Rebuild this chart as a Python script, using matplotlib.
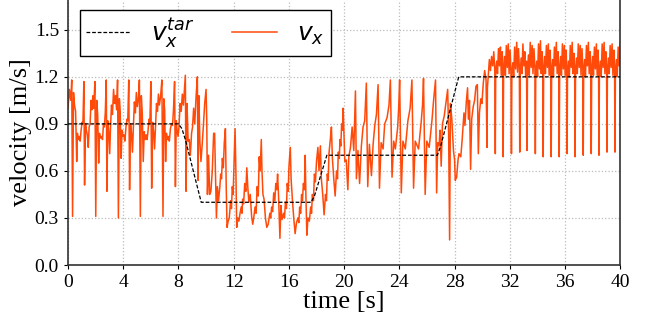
import matplotlib
matplotlib.use('Agg')
import matplotlib.pyplot as plt
import numpy as np

# target velocity (piecewise)
tar_t = [0.0, 8.0, 8.25, 8.5, 9.65, 17.6, 17.85, 18.75, 26.75, 27.0, 28.3, 40.0]
tar_v = [0.9, 0.9, 0.87, 0.8, 0.4, 0.4, 0.44, 0.7, 0.7, 0.76, 1.2, 1.2]

# measured v_x, 0 - 10 s
t_a = [0.00, 0.10, 0.20, 0.27, 0.33, 0.40, 0.47, 0.55, 0.63, 0.68, 0.75, 0.82, 0.88, 0.95, 1.02, 1.08,
       1.15, 1.20, 1.27, 1.33, 1.40, 1.47, 1.53, 1.60, 1.67, 1.73, 1.80, 1.86, 1.95, 2.01, 2.08, 2.15,
       2.22, 2.28, 2.35, 2.42, 2.50, 2.57, 2.63, 2.70, 2.77, 2.82, 2.88, 2.95, 3.02, 3.08, 3.15, 3.22,
       3.30, 3.37, 3.44, 3.52, 3.59, 3.65, 3.72, 3.78, 3.85, 3.91, 3.98, 4.05, 4.12, 4.20, 4.27, 4.33,
       4.40, 4.46, 4.53, 4.60, 4.67, 4.74, 4.81, 4.88, 4.95, 5.02, 5.10, 5.17, 5.24, 5.31, 5.38, 5.45,
       5.52, 5.59, 5.66, 5.73, 5.80, 5.87, 5.93, 6.00, 6.06, 6.13, 6.20, 6.27, 6.34, 6.41, 6.48, 6.55,
       6.62, 6.70, 6.80, 6.88, 6.94, 7.00, 7.07, 7.13, 7.20, 7.27, 7.34, 7.42, 7.50, 7.57, 7.64, 7.72,
       7.78, 7.84, 7.90, 7.97, 8.04, 8.12, 8.20, 8.28, 8.36, 8.43, 8.50, 8.55, 8.62, 8.70, 8.78, 8.86,
       8.95, 9.02, 9.10, 9.18, 9.28, 9.37, 9.42, 9.48, 9.55, 9.63, 9.72, 9.80, 9.90]
v_a = [1.00, 1.12, 1.05, 1.18, 0.31, 1.10, 1.02, 0.98, 0.66, 0.84, 0.80, 0.82, 0.79, 0.86, 0.91, 0.90,
       1.17, 0.51, 0.90, 0.86, 0.83, 0.75, 0.88, 0.90, 1.05, 0.99, 1.08, 1.00, 1.17, 0.31, 1.05, 0.96,
       0.65, 0.84, 0.81, 0.82, 0.80, 0.90, 0.88, 0.97, 1.18, 0.47, 0.92, 0.85, 0.71, 0.88, 1.02, 0.96,
       1.12, 1.03, 1.08, 0.99, 1.18, 0.30, 1.06, 0.98, 0.68, 0.86, 0.82, 0.83, 0.79, 0.88, 0.93, 0.92,
       1.18, 0.48, 0.90, 0.84, 0.72, 0.89, 1.04, 0.97, 1.10, 1.01, 1.06, 1.18, 0.31, 1.08, 0.97, 0.66,
       0.85, 0.80, 0.83, 0.80, 0.86, 0.93, 0.90, 1.17, 0.49, 0.91, 0.85, 0.74, 0.89, 1.03, 0.98, 1.09,
       1.02, 1.07, 1.18, 0.31, 1.06, 0.99, 0.66, 0.84, 0.80, 0.82, 0.79, 0.87, 0.90, 0.89, 0.99, 1.17,
       0.50, 0.92, 0.86, 0.82, 0.88, 1.03, 0.98, 1.09, 1.02, 1.12, 1.21, 0.47, 1.03, 0.79, 0.80, 0.70,
       0.84, 0.88, 1.00, 0.90, 1.08, 1.20, 0.54, 1.08, 0.79, 0.66, 0.77, 0.88, 1.03]

# 10 - 20 s
t_b = [10.00, 10.05, 10.10, 10.18, 10.26, 10.35, 10.45, 10.55, 10.62, 10.68, 10.75, 10.82, 10.90,
       11.00, 11.06, 11.12, 11.18, 11.25, 11.32, 11.40, 11.46, 11.52, 11.60, 11.68, 11.78, 11.84,
       11.90, 11.96, 12.02, 12.10, 12.16, 12.22, 12.30, 12.38, 12.46, 12.55, 12.60, 12.65, 12.72,
       12.80, 12.88, 12.95, 13.02, 13.10, 13.20, 13.30, 13.38, 13.45, 13.55, 13.62, 13.70, 13.78,
       13.85, 13.92, 14.00, 14.05, 14.12, 14.20, 14.30, 14.40, 14.50, 14.62, 14.68, 14.75, 14.82,
       14.90, 14.98, 15.05, 15.12, 15.18, 15.25, 15.35, 15.42, 15.50, 15.62, 15.68, 15.75, 15.82,
       15.88, 15.95, 16.00, 16.10, 16.16, 16.25, 16.35, 16.45, 16.55, 16.65, 16.72, 16.78, 16.85,
       16.92, 16.98, 17.05, 17.12, 17.18, 17.23, 17.30, 17.38, 17.48, 17.58, 17.64, 17.70, 17.78,
       17.85, 17.92, 18.00, 18.10, 18.18, 18.28, 18.35, 18.45, 18.55, 18.65, 18.72, 18.78, 18.85,
       18.90, 19.00, 19.08, 19.15, 19.25, 19.35, 19.45, 19.52, 19.58, 19.65, 19.70, 19.76, 19.82,
       19.88, 19.93]
v_b = [1.12, 0.92, 0.45, 0.70, 0.45, 0.47, 0.60, 0.84, 0.84, 0.60, 0.30, 0.50, 0.41,
       0.50, 0.58, 0.55, 0.68, 0.62, 0.78, 0.87, 0.50, 0.24, 0.28, 0.30, 0.41, 0.36,
       0.50, 0.45, 0.64, 0.87, 0.60, 0.24, 0.30, 0.28, 0.33, 0.37, 0.33, 0.42, 0.39,
       0.52, 0.47, 0.62, 0.50, 0.40, 0.45, 0.31, 0.26, 0.30, 0.37, 0.33, 0.50, 0.44,
       0.69, 0.60, 0.80, 0.60, 0.45, 0.42, 0.30, 0.24, 0.26, 0.33, 0.30, 0.37, 0.34,
       0.46, 0.41, 0.52, 0.48, 0.58, 0.44, 0.17, 0.38, 0.29, 0.33, 0.30, 0.40, 0.36,
       0.52, 0.47, 0.62, 0.75, 0.55, 0.42, 0.30, 0.20, 0.27, 0.30, 0.27, 0.37, 0.33,
       0.45, 0.41, 0.52, 0.48, 0.70, 0.45, 0.19, 0.30, 0.28, 0.37, 0.33, 0.45, 0.41,
       0.58, 0.53, 0.66, 0.75, 0.60, 0.76, 0.55, 0.45, 0.32, 0.45, 0.41, 0.58, 0.54,
       0.71, 0.80, 0.88, 0.68, 0.55, 0.44, 0.60, 0.55, 0.72, 0.68, 0.80, 0.76, 0.90,
       0.86, 1.00]

# 20 - 30.3 s
t_c = [20.05, 20.15, 20.27, 20.34, 20.46, 20.58, 20.70, 20.82, 20.89, 21.00, 21.12, 21.25, 21.37,
       21.49, 21.61, 21.71, 21.83, 21.98, 22.10, 22.22, 22.34, 22.46, 22.56, 22.68, 22.82, 22.94,
       23.11, 23.25, 23.35, 23.47, 23.59, 23.71, 23.88, 23.95, 24.02, 24.14, 24.26, 24.43, 24.62,
       24.78, 24.91, 25.03, 25.15, 25.39, 25.58, 25.68, 25.75, 25.87, 25.99, 26.16, 26.36, 26.48,
       26.62, 26.70, 26.78, 26.88, 26.95, 27.03, 27.12, 27.25, 27.40, 27.50, 27.57, 27.64, 27.70,
       27.80, 27.92, 28.00, 28.05, 28.15, 28.25, 28.32, 28.45, 28.55, 28.68, 28.75, 28.85, 28.94,
       29.00, 29.08, 29.16, 29.24, 29.35, 29.45, 29.55, 29.65, 29.72, 29.80, 29.90, 29.98, 30.08,
       30.18, 30.28]
v_c = [0.66, 0.67, 0.48, 0.69, 0.75, 0.88, 0.73, 1.11, 0.55, 0.73, 0.52, 0.76, 0.88,
       0.92, 1.16, 0.50, 0.77, 0.57, 0.77, 0.89, 0.96, 1.15, 0.49, 0.78, 0.74, 0.90,
       0.94, 1.02, 1.18, 0.56, 0.79, 0.74, 0.88, 1.00, 1.18, 0.46, 0.79, 0.74, 0.92,
       1.00, 1.18, 0.49, 0.79, 0.74, 0.91, 1.02, 1.19, 0.45, 0.79, 0.75, 0.92, 1.05,
       1.18, 0.46, 0.78, 0.76, 0.86, 0.63, 0.90, 0.95, 1.05, 1.12, 0.84, 0.16, 1.03,
       0.93, 0.73, 0.67, 0.54, 0.56, 0.67, 0.71, 0.69, 0.80, 0.97, 0.89, 1.04, 1.13,
       0.93, 1.05, 0.61, 0.93, 1.01, 1.05, 1.14, 1.15, 0.71, 0.97, 1.06, 1.03, 1.16,
       1.24, 1.18]

# 30.3 - 40 s
t_d = [30.35, 30.38, 30.45, 30.52, 30.60, 30.68, 30.76, 30.84, 30.92,
       30.95, 30.98, 31.05, 31.11, 31.18, 31.25, 31.32, 31.38, 31.45, 31.49,
       31.52, 31.55, 31.62, 31.68, 31.75, 31.82, 31.89, 31.95, 32.02, 32.08,
       32.12, 32.15, 32.22, 32.28, 32.35, 32.42, 32.50, 32.56, 32.63, 32.69,
       32.72, 32.75, 32.82, 32.88, 32.95, 33.02, 33.09, 33.15, 33.21,
       33.25, 33.28, 33.35, 33.41, 33.48, 33.55, 33.62, 33.68, 33.75, 33.82,
       33.85, 33.88, 33.95, 34.01, 34.08, 34.15, 34.22, 34.28, 34.34, 34.39,
       34.42, 34.45, 34.52, 34.58, 34.65, 34.72, 34.79, 34.85, 34.92, 34.97,
       35.00, 35.03, 35.10, 35.16, 35.23, 35.30, 35.37, 35.43, 35.50, 35.55,
       35.58, 35.61, 35.68, 35.74, 35.81, 35.88, 35.95, 36.01, 36.08, 36.12,
       36.15, 36.18, 36.25, 36.31, 36.38, 36.45, 36.52, 36.58, 36.65, 36.70,
       36.73, 36.76, 36.83, 36.89, 36.96, 37.03, 37.10, 37.16, 37.23, 37.29,
       37.32, 37.35, 37.42, 37.48, 37.55, 37.62, 37.69, 37.75, 37.82, 37.87,
       37.90, 37.93, 38.00, 38.06, 38.13, 38.20, 38.27, 38.33, 38.40, 38.43,
       38.46, 38.49, 38.56, 38.62, 38.69, 38.76, 38.83, 38.89, 38.96, 39.01,
       39.04, 39.07, 39.14, 39.20, 39.27, 39.34, 39.41, 39.47, 39.54, 39.59,
       39.62, 39.65, 39.72, 39.78, 39.85, 39.92, 40.00]
v_d = [0.75, 1.13, 1.22, 1.31, 1.24, 1.33, 1.27, 1.36, 1.22,
       0.71, 1.24, 1.30, 1.22, 1.38, 1.27, 1.39, 1.21, 1.36, 1.25,
       0.69, 1.22, 1.33, 1.21, 1.40, 1.26, 1.41, 1.22, 1.37, 1.24,
       0.71, 1.22, 1.29, 1.20, 1.39, 1.25, 1.42, 1.23, 1.38, 1.26,
       0.72, 1.21, 1.32, 1.22, 1.41, 1.27, 1.36, 1.20, 1.30,
       0.73, 1.23, 1.34, 1.21, 1.42, 1.26, 1.40, 1.22, 1.38, 1.25,
       0.71, 1.22, 1.30, 1.20, 1.41, 1.25, 1.43, 1.22, 1.36, 1.24,
       0.69, 1.21, 1.33, 1.22, 1.40, 1.26, 1.41, 1.21, 1.37, 1.24,
       0.69, 1.22, 1.31, 1.20, 1.39, 1.27, 1.42, 1.22, 1.36, 1.24,
       0.69, 1.22, 1.33, 1.21, 1.41, 1.25, 1.40, 1.21, 1.37, 1.25,
       0.71, 1.22, 1.30, 1.20, 1.40, 1.26, 1.42, 1.22, 1.35, 1.24,
       0.69, 1.21, 1.32, 1.22, 1.41, 1.26, 1.40, 1.21, 1.38, 1.25,
       0.70, 1.22, 1.31, 1.20, 1.40, 1.27, 1.42, 1.22, 1.36, 1.24,
       0.71, 1.22, 1.33, 1.21, 1.39, 1.25, 1.41, 1.21, 1.37, 1.24,
       0.70, 1.22, 1.30, 1.20, 1.41, 1.26, 1.42, 1.22, 1.36, 1.25,
       0.72, 1.21, 1.32, 1.22, 1.40, 1.26, 1.41, 1.21, 1.37, 1.24,
       0.72, 1.22, 1.31, 1.20, 1.39, 1.27, 1.42]

vx_t = np.array(t_a + t_b + t_c + t_d)
vx = np.array(v_a + v_b + v_c + v_d)

x_ticks = [0, 4, 8, 12, 16, 20, 24, 28, 32, 36, 40]
y_ticks = [0.0, 0.3, 0.6, 0.9, 1.2, 1.5]

plt.rcParams['font.family'] = 'Liberation Serif'
plt.rcParams['mathtext.fontset'] = 'dejavusans'

fig = plt.figure(figsize=(6.52, 3.22), dpi=100)
ax = fig.add_axes([0.1043, 0.177, 0.847, 0.823])

ax.plot(tar_t, tar_v, '--', color='black', lw=0.9, dashes=(3, 1.5), label=r'$v_x^{tar}$', zorder=3)
ax.plot(vx_t, vx, '-', color='#ff4a0a', lw=1.1, label=r'$v_x$', zorder=2)

ax.set_xlim(0, 40)
ax.set_ylim(0, 1.69)
ax.set_xticks(x_ticks)
ax.set_yticks(y_ticks)
ax.yaxis.set_major_formatter(matplotlib.ticker.FormatStrFormatter('%.1f'))
ax.tick_params(labelsize=14, length=3)
ax.grid(True, ls=':', color='#bbbbbb', lw=0.9)
ax.set_xlabel('time [s]', fontsize=19, labelpad=0)
ax.set_ylabel('velocity [m/s]', fontsize=19, labelpad=2)
for s in ['left', 'bottom', 'right']:
    ax.spines[s].set_linewidth(1.2)
    ax.spines[s].set_color('#333333')
ax.spines['top'].set_visible(False)

leg = ax.legend(loc='upper left', ncol=2, fontsize=18, fancybox=False, framealpha=1,
                edgecolor='black', handlelength=1.8, handletextpad=0.8, columnspacing=1.5,
                borderpad=0.25, borderaxespad=0, bbox_to_anchor=(0.0217, 0.962))
leg.get_frame().set_linewidth(1.0)

fig.savefig('out.png', dpi=100)
